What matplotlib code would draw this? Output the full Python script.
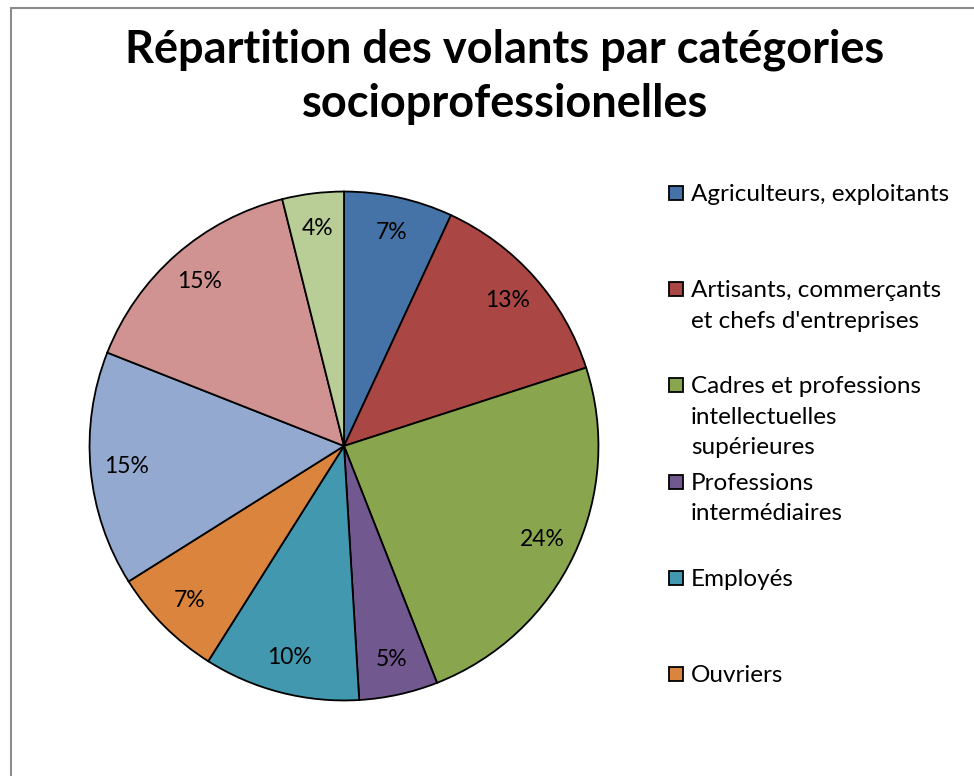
import matplotlib
matplotlib.use("Agg")
import matplotlib.pyplot as plt
from matplotlib.patches import Rectangle

title = "Répartition des volants par catégories\nsocioprofessionelles"
values = [6.9, 13.1, 24.0, 5.0, 9.9, 7.1, 14.9, 15.1, 3.9]
colors = ["#4572A7", "#AA4643", "#89A54E", "#71588F", "#4198AF",
          "#DB843D", "#93A9CF", "#D19392", "#B9CD96"]
legend_labels = ["Agriculteurs, exploitants",
                 "Artisants, commerçants\net chefs d'entreprises",
                 "Cadres et professions\nintellectuelles\nsupérieures",
                 "Professions\nintermédiaires",
                 "Employés",
                 "Ouvriers"]

plt.rcParams['font.family'] = ['Lato', 'DejaVu Sans']

W, H = 974, 776
fig = plt.figure(figsize=(W/100, H/100), dpi=100)

# outer chart border (cropped at right/bottom)
fig.patches.append(Rectangle((11/W, -0.05), 1.1, 1 - 8/H + 0.05,
                             transform=fig.transFigure, fill=False,
                             edgecolor="#8c8c8c", linewidth=1.5))

fig.text(505/W, 1 - 77/H, title, ha="center", va="center",
         fontsize=32.5, fontweight="bold", linespacing=1.36)

cx, cy, r = 344, 446, 257
ax = fig.add_axes([(cx - r)/W, 1 - (cy + r)/H, 2*r/W, 2*r/H])
ax.pie(values, colors=colors, startangle=90, counterclock=False,
       autopct=lambda p: f"{p:.0f}%", pctdistance=0.86,
       wedgeprops=dict(edgecolor="black", linewidth=1.3),
       textprops=dict(fontsize=16.5, color="black"))
ax.set_xlim(-1.01, 1.01)
ax.set_ylim(-1.01, 1.01)
ax.set_aspect("equal")
ax.axis("off")

# legend (only the visible part of the original)
y0, step = 193, 96.2
for i, lab in enumerate(legend_labels):
    yc = y0 + i*step
    fig.patches.append(Rectangle((669/W, 1 - (yc + 7)/H), 14/W, 14/H,
                                 transform=fig.transFigure,
                                 facecolor=colors[i], edgecolor="black",
                                 linewidth=1.3))
    fig.text(691/W, 1 - (yc - 9)/H, lab, ha="left", va="top",
             fontsize=17.5, linespacing=1.55)

fig.savefig("out.png", dpi=100)
